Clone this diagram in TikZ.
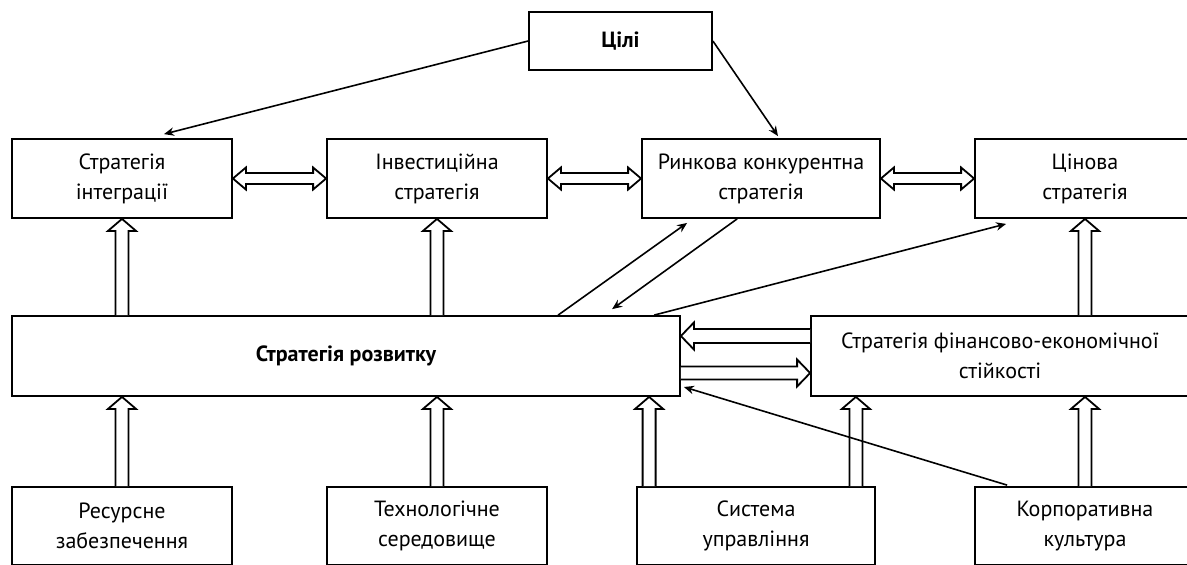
\documentclass[tikz,border=0pt]{standalone}
\usepackage{fontspec}
\setmainfont{PT Sans}
\usepackage{tikz}
\usetikzlibrary{arrows.meta, calc}

% hollow block arrows, drawn as outlines (units: x right, y down)
\newcommand{\blockup}[2]{%
  \draw[blockarrow] ($(#1)+(-6.5,0)$) -- ($(#2)+(-6.5,12)$) -- ($(#2)+(-14,12)$) -- (#2)
    -- ($(#2)+(14,12)$) -- ($(#2)+(6.5,12)$) -- ($(#1)+(6.5,0)$);}
\newcommand{\blockright}[2]{%
  \draw[blockarrow] ($(#1)+(0,-6.5)$) -- ($(#2)+(-13,-6.5)$) -- ($(#2)+(-13,-13.5)$) -- (#2)
    -- ($(#2)+(-13,13.5)$) -- ($(#2)+(-13,6.5)$) -- ($(#1)+(0,6.5)$);}
\newcommand{\blockleft}[2]{%
  \draw[blockarrow] ($(#1)+(0,-7)$) -- ($(#2)+(13,-7)$) -- ($(#2)+(13,-13.5)$) -- (#2)
    -- ($(#2)+(13,13.5)$) -- ($(#2)+(13,7)$) -- ($(#1)+(0,7)$);}
\newcommand{\blockboth}[2]{%
  \draw[blockarrow] (#1) -- ($(#1)+(13,-11)$) -- ($(#1)+(13,-5.5)$) -- ($(#2)+(-13,-5.5)$)
    -- ($(#2)+(-13,-11)$) -- (#2) -- ($(#2)+(-13,11)$) -- ($(#2)+(-13,5.5)$)
    -- ($(#1)+(13,5.5)$) -- ($(#1)+(13,11)$) -- cycle;}

\begin{document}
\begin{tikzpicture}[
    x=0.5pt, y=-0.5pt,
    every node/.style={font=\fontsize{11}{15}\selectfont},
    box/.style={draw, line width=0.9pt, inner sep=0pt, align=center, minimum height=39.5pt},
    blockarrow/.style={draw, line width=0.9pt, line join=miter, fill=white},
    thin/.style={line width=0.8pt, -{Stealth[length=5pt, width=4.2pt]}}
]
\useasboundingbox (0,0) rectangle (1187,564);
\clip (0,0) rectangle (1187,564);

% goals
\node[box, minimum width=91.5pt, minimum height=29pt, font=\fontsize{11}{15}\selectfont\bfseries] (tsili) at (620.5,41) {Цілі};

% top row
\node[box, minimum width=110pt] (intg) at (122,178.5) {Стратегія\\інтеграції};
\node[box, minimum width=110pt] (inv) at (437,178.5) {Інвестиційна\\стратегія};
\node[box, minimum width=119pt] (market) at (761,178.5) {Ринкова конкурентна\\стратегія};
\node[box, minimum width=110pt] (price) at (1085,178.5) {Цінова\\стратегія};

% middle row
\node[box, minimum width=334pt, minimum height=40pt, font=\fontsize{11}{15}\selectfont\bfseries] (rozv) at (346,356) {Стратегія розвитку};
\node[box, minimum width=189pt, minimum height=40pt] (fin) at (1000,356) {Стратегія фінансово-економічної\\стійкості};

% bottom row
\node[box, minimum width=110pt, minimum height=39pt] (res) at (122,526) {Ресурсне\\забезпечення};
\node[box, minimum width=110pt, minimum height=39pt] (tech) at (437,526) {Технологічне\\середовище};
\node[box, minimum width=119pt, minimum height=39pt] (sys) at (756,526) {Система\\управління};
\node[box, minimum width=110pt, minimum height=39pt] (corp) at (1085,526) {Корпоративна\\культура};

% helper points
\coordinate (sysa) at ($(sys.north west)+(13,0)$);
\coordinate (sysb) at ($(sys.north east)+(-20,0)$);
\coordinate (fintail) at ($(fin.west)+(0,-20)$);
\coordinate (rozvtip) at ($(rozv.east)+(0,-20)$);
\coordinate (rozvtail) at ($(rozv.east)+(0,17)$);
\coordinate (fintip) at ($(fin.west)+(0,17)$);

% block arrows
\blockboth{intg.east}{inv.west}
\blockboth{inv.east}{market.west}
\blockboth{market.east}{price.west}
\blockup{rozv.north -| intg.south}{intg.south}
\blockup{rozv.north -| inv.south}{inv.south}
\blockup{fin.north -| price.south}{price.south}
\blockup{res.north}{rozv.south -| res.north}
\blockup{tech.north}{rozv.south -| tech.north}
\blockup{sysa}{rozv.south -| sysa}
\blockup{sysb}{fin.south -| sysb}
\blockup{corp.north}{fin.south -| corp.north}
\blockleft{fintail}{rozvtip}
\blockright{rozvtail}{fintip}

% thin arrows
\draw[thin] (tsili.west) -- ($(intg.north)+(42,-4)$);
\draw[thin] (tsili.east) -- ($(market.north)+(17,-2)$);
\draw[thin] ($(rozv.north west)+(547,0)$) -- ($(market.south west)+(46,4)$);
\draw[thin] ($(market.south west)+(96,0)$) -- ($(rozv.north west)+(601,-6)$);
\draw[thin] ($(rozv.north west)+(643,0)$) -- ($(price.south west)+(32,5)$);
\draw[thin] ($(corp.north west)+(33,-1)$) -- ($(rozv.east)+(3,31)$);
\end{tikzpicture}
\end{document}
